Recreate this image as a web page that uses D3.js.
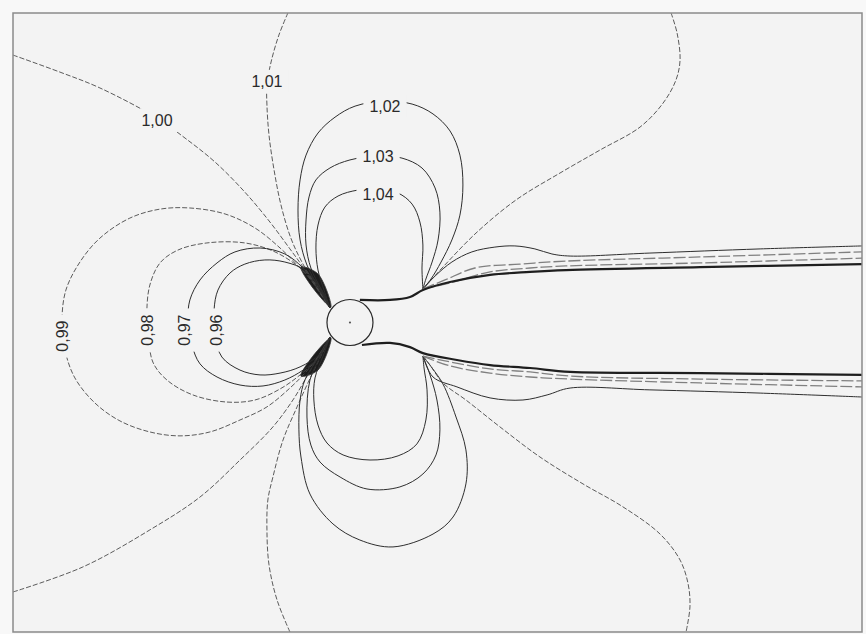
<!DOCTYPE html>
<html><head><meta charset="utf-8">
<script src="https://cdn.jsdelivr.net/npm/d3@7"></script>
<style>
html,body{margin:0;padding:0;background:#f8f8f8;}
svg{display:block;}
</style></head><body>
<svg id="chart" width="866" height="634"></svg>
<script>
// Field extent in cylinder radii (cylinder centred at 0,0)
const xExtent = [-14.65, 22.26];
const yExtent = [-13.46, 13.46];
const cylinderRadius = 1;

// ---- isolines (x, y in cylinder radii) ----
const iso096 = [[-0.87,0.63],[-1.22,1.41],[-1.96,2.28],[-2.83,2.63],[-3.70,2.72],[-4.57,2.54],[-5.22,2.15],[-5.74,1.41],[-5.91,0.54],[-5.87,-0.54],[-5.57,-1.50],[-4.78,-2.07],[-3.91,-2.28],[-3.04,-2.20],[-2.17,-1.93],[-1.30,-1.37],[-0.87,-0.63]];
const iso097 = [[-0.87,0.63],[-1.30,1.46],[-2.04,2.37],[-2.83,2.98],[-3.91,3.24],[-5.00,3.07],[-5.78,2.59],[-6.52,1.85],[-6.96,0.98],[-7.04,0.11],[-6.87,-0.98],[-6.52,-1.80],[-5.78,-2.37],[-4.78,-2.72],[-3.78,-2.76],[-2.83,-2.50],[-2.04,-2.07],[-1.30,-1.46],[-0.87,-0.63]];
const iso098 = [[-0.87,0.63],[-1.39,1.54],[-2.17,2.37],[-3.26,3.07],[-4.57,3.46],[-6.22,3.46],[-7.48,3.15],[-8.26,2.59],[-8.70,1.63],[-8.83,0.54],[-8.78,-0.33],[-8.57,-1.72],[-7.96,-2.50],[-6.83,-3.15],[-5.35,-3.46],[-4.13,-3.37],[-3.04,-2.89],[-2.17,-2.28],[-1.39,-1.54],[-0.87,-0.63]];
const iso099 = [[-0.87,0.63],[-1.52,1.63],[-2.17,2.37],[-3.04,3.24],[-4.13,4.11],[-5.43,4.72],[-6.96,4.98],[-8.26,4.93],[-9.57,4.54],[-10.87,3.67],[-11.74,2.63],[-12.35,1.41],[-12.52,0.11],[-12.39,-1.20],[-11.96,-2.41],[-11.09,-3.50],[-10.00,-4.28],[-8.70,-4.76],[-7.39,-4.93],[-6.09,-4.76],[-4.78,-4.24],[-3.61,-3.67],[-2.61,-2.85],[-1.96,-2.20],[-1.43,-1.54],[-0.87,-0.63]];
const iso100UpperLeft = [[-14.65,11.63],[-12.61,10.89],[-10.87,10.20],[-8.39,8.89],[-7.17,8.02],[-5.87,6.98],[-4.57,5.67],[-3.48,4.37],[-2.61,3.20],[-2.04,2.41],[-1.57,1.67],[-0.87,0.63]];
const iso100LowerLeft = [[-14.65,-11.72],[-11.61,-10.63],[-8.70,-9.02],[-6.52,-7.59],[-4.78,-5.98],[-3.35,-4.54],[-2.48,-3.37],[-1.96,-2.50],[-1.52,-1.72],[-0.87,-0.63]];
const iso101UpperLeft = [[-2.70,13.46],[-3.09,12.50],[-3.43,11.33],[-3.61,10.33],[-3.61,9.46],[-3.52,8.15],[-3.30,6.63],[-3.00,5.11],[-2.57,3.67],[-2.09,2.63],[-1.48,1.59],[-0.87,0.63]];
const iso101LowerLeft = [[-2.61,-13.46],[-3.17,-12.07],[-3.52,-10.54],[-3.61,-9.02],[-3.57,-7.72],[-3.35,-6.72],[-2.91,-5.11],[-2.30,-3.67],[-1.83,-2.63],[-1.39,-1.72],[-0.87,-0.63]];
const iso102Upper = [[-0.87,0.63],[-1.35,1.50],[-1.87,2.50],[-2.17,3.59],[-2.26,4.89],[-2.17,6.20],[-1.91,7.28],[-1.39,8.24],[-0.65,8.93],[0.22,9.41],[1.52,9.63],[2.70,9.50],[3.61,9.07],[4.35,8.33],[4.78,7.28],[4.91,5.98],[4.78,4.67],[4.43,3.59],[3.96,2.63],[3.52,1.89],[3.17,1.46]];
const iso102Lower = [[-0.87,-0.63],[-1.39,-1.54],[-1.96,-2.50],[-2.17,-3.37],[-2.22,-4.67],[-2.13,-5.85],[-1.74,-7.46],[-0.74,-8.76],[0.43,-9.46],[1.87,-9.76],[3.61,-9.20],[4.48,-8.46],[5.04,-7.02],[5.04,-5.54],[4.61,-4.11],[4.04,-2.67],[3.57,-1.98],[3.17,-1.46]];
const iso103Upper = [[-0.87,0.63],[-1.26,1.46],[-1.70,2.37],[-1.91,3.37],[-1.91,4.46],[-1.78,5.46],[-1.48,6.20],[-0.87,6.72],[0,7.07],[1.22,7.24],[2.26,7.15],[3.13,6.72],[3.70,5.85],[3.91,4.80],[3.83,3.59],[3.57,2.63],[3.30,1.89],[3.17,1.46]];
const iso103Lower = [[-0.87,-0.63],[-1.30,-1.50],[-1.74,-2.50],[-1.87,-4.11],[-1.70,-5.33],[-1.30,-6.07],[-0.43,-6.72],[0.74,-7.24],[2.17,-7.15],[3.17,-6.59],[3.74,-5.76],[3.91,-4.67],[3.78,-3.37],[3.48,-2.28],[3.17,-1.46]];
const iso104Upper = [[-0.87,0.63],[-1.13,1.41],[-1.39,2.28],[-1.48,3.24],[-1.39,4.24],[-1.09,5.02],[-0.52,5.50],[0.35,5.76],[1.22,5.80],[2.09,5.63],[2.70,5.15],[3.04,4.37],[3.17,3.37],[3.13,2.37],[3.17,1.46]];
const iso104Lower = [[-0.87,-0.63],[-1.17,-1.46],[-1.52,-2.41],[-1.57,-3.37],[-1.39,-4.46],[-1.00,-5.24],[-0.30,-5.76],[0.87,-5.98],[2.09,-5.80],[2.91,-5.28],[3.30,-4.24],[3.35,-2.93],[3.22,-1.98],[3.17,-1.46]];
const iso101UpperRight = [[13.96,13.46],[14.22,12.59],[14.35,11.41],[14.17,10.54],[13.61,9.54],[12.61,8.50],[10.87,7.50],[9.13,6.50],[7.22,5.33],[5.48,3.89],[4.04,2.41],[3.48,1.80],[3.17,1.46]];
const iso101LowerRight = [[3.17,-1.46],[3.48,-1.85],[4.04,-2.63],[5.04,-3.37],[6.52,-4.54],[8.26,-5.85],[10.13,-7.02],[11.87,-8.02],[13.48,-9.20],[14.35,-10.33],[14.70,-11.37],[14.78,-12.37],[14.61,-13.46]];
const iso100UpperRight = [[3.17,1.46],[3.70,2.02],[4.43,2.63],[5.30,3.07],[6.30,3.28],[7.17,3.33],[8.04,3.20],[8.78,2.98],[9.57,2.89],[13.04,3.02],[17.83,3.20],[22.26,3.33]];
const iso100LowerRight = [[3.17,-1.46],[3.61,-2.37],[4.65,-2.80],[6.09,-3.28],[7.52,-3.37],[8.57,-3.15],[9.57,-2.85],[13.04,-2.93],[17.83,-3.07],[22.26,-3.24]];
const wakeUpperA = [[3.17,1.46],[4.13,1.85],[5.43,2.37],[7.39,2.54],[9.39,2.67],[15.22,2.85],[22.26,3.07]];
const wakeUpperB = [[3.17,1.46],[4.35,1.72],[6.09,2.20],[7.83,2.37],[9.39,2.46],[15.22,2.59],[22.26,2.80]];
const wakeLowerA = [[3.17,-1.46],[4.35,-1.89],[6.09,-2.20],[7.83,-2.37],[9.57,-2.46],[15.22,-2.63],[22.26,-2.80]];
const wakeLowerB = [[3.17,-1.46],[4.13,-1.67],[6.09,-2.02],[7.83,-2.15],[9.57,-2.33],[15.22,-2.46],[22.26,-2.54]];
const shearUpper = [[0.43,0.98],[1.74,0.98],[2.61,1.11],[3.17,1.41],[4.35,1.76],[6.09,2.07],[7.83,2.20],[9.39,2.28],[15.22,2.41],[22.26,2.54]];
const shearLower = [[0.52,-0.98],[1.74,-0.89],[2.61,-1.07],[3.17,-1.33],[4.65,-1.63],[6.09,-1.85],[7.83,-1.98],[9.57,-2.15],[15.22,-2.20],[22.26,-2.28]];
// dense convergence zones (isolines packed together) near the front shoulders
const packUpper = [[-2.13,2.41],[-1.39,2.11],[-0.83,0.67],[-1.61,1.50]];
const packLower = [[-2.13,-2.33],[-1.39,-2.07],[-0.83,-0.67],[-1.61,-1.46]];

// ---- contour labels ----
const labelTexts = ["1,00","1,01","1,02","1,03","1,04","0,99","0,98","0,97","0,96"];
const labelX = [-8.39,-3.61,1.52,1.22,1.22,-12.52,-8.83,-7.22,-5.83];
const labelY = [8.80,10.50,9.41,7.24,5.59,-0.59,-0.33,-0.33,-0.33];
const labelAngle = [0,0,0,0,0,-90,-90,-90,-90];

// ---- drawing ----
const svg = d3.select("#chart");
const x = d3.scaleLinear().domain(xExtent).range([13, 862]);
const y = d3.scaleLinear().domain(yExtent).range([632, 13]);

svg.append("defs").append("clipPath").attr("id","clip")
  .append("rect").attr("x",x(xExtent[0])).attr("y",y(yExtent[1]))
  .attr("width",x(xExtent[1])-x(xExtent[0])).attr("height",y(yExtent[0])-y(yExtent[1]));

svg.append("rect").attr("x",x(xExtent[0])).attr("y",y(yExtent[1]))
  .attr("width",x(xExtent[1])-x(xExtent[0])).attr("height",y(yExtent[0])-y(yExtent[1]))
  .attr("fill","#f3f3f3");

const g = svg.append("g").attr("clip-path","url(#clip)");
const line = d3.line().x(d=>x(d[0])).y(d=>y(d[1])).curve(d3.curveCatmullRom.alpha(0.5));
const blob = d3.line().x(d=>x(d[0])).y(d=>y(d[1])).curve(d3.curveCatmullRomClosed.alpha(0.5));

const dashed = {stroke:"#4a4a4a", width:0.9, dash:"5,2"};
const solid = {stroke:"#2e2e2e", width:1.0, dash:null};
const band = {stroke:"#808080", width:1.3, dash:"12,3"};
const heavy = {stroke:"#1e1e1e", width:2.2, dash:null};

// packed wedges
g.selectAll("path.pack").data([packUpper, packLower]).join("path").attr("class","pack")
  .attr("d", blob).attr("fill","#1c1c1c").attr("stroke","#333").attr("stroke-width",0.8);

const lines = [
  [iso099, dashed],[iso098, dashed],[iso097, solid],[iso096, solid],
  [iso100UpperLeft, dashed],[iso100LowerLeft, dashed],
  [iso101UpperLeft, dashed],[iso101LowerLeft, dashed],
  [iso102Upper, solid],[iso102Lower, solid],
  [iso103Upper, solid],[iso103Lower, solid],
  [iso104Upper, solid],[iso104Lower, solid],
  [iso101UpperRight, dashed],[iso101LowerRight, dashed],
  [iso100UpperRight, solid],[iso100LowerRight, solid],
  [wakeUpperA, band],[wakeUpperB, band],[wakeLowerA, band],[wakeLowerB, band],
  [shearUpper, heavy],[shearLower, heavy]
];
g.selectAll("path.iso").data(lines).join("path").attr("class","iso")
  .attr("d", d=>line(d[0]))
  .attr("fill","none")
  .attr("stroke", d=>d[1].stroke)
  .attr("stroke-width", d=>d[1].width)
  .attr("stroke-dasharray", d=>d[1].dash)
  .attr("stroke-linejoin","round");

// cylinder
const r = x(cylinderRadius) - x(0);
g.append("circle").attr("cx",x(0)).attr("cy",y(0)).attr("r",r)
  .attr("fill","#f3f3f3").attr("stroke","#2a2a2a").attr("stroke-width",1.2);
g.append("circle").attr("cx",x(0)).attr("cy",y(0)).attr("r",1.1).attr("fill","#555");

// labels with background halo
const labels = svg.append("g");
labelTexts.forEach((t,i)=>{
  const lg = labels.append("g")
    .attr("transform",`translate(${x(labelX[i])},${y(labelY[i])}) rotate(${labelAngle[i]})`);
  const txt = lg.append("text").text(t)
    .attr("text-anchor","middle").attr("dy","0.36em")
    .attr("font-family","'Liberation Sans', Arial, sans-serif")
    .attr("font-size",16).attr("fill","#2a2a2a");
  const bb = txt.node().getBBox();
  lg.insert("rect","text").attr("x",bb.x-6).attr("y",bb.y-3)
    .attr("width",bb.width+12).attr("height",bb.height+6).attr("fill","#f3f3f3");
});

// frame
svg.append("rect").attr("x",x(xExtent[0])).attr("y",y(yExtent[1]))
  .attr("width",x(xExtent[1])-x(xExtent[0])).attr("height",y(yExtent[0])-y(yExtent[1]))
  .attr("fill","none").attr("stroke","#8a8a8a").attr("stroke-width",1.5);
</script>
</body></html>
